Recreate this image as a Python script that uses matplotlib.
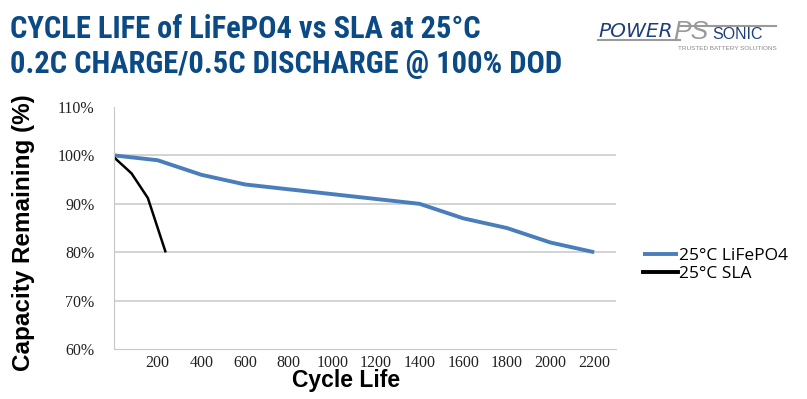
import matplotlib.pyplot as plt
from matplotlib.lines import Line2D

# data
lfp_cycles = [0, 200, 400, 600, 800, 1000, 1200, 1400, 1600, 1800, 2000, 2200]
lfp_capacity = [100, 99, 96, 94, 93, 92, 91, 90, 87, 85, 82, 80]
sla_cycles = [0, 80, 155, 235]
sla_capacity = [99.6, 96.3, 91.2, 80.2]
x_ticks = [200, 400, 600, 800, 1000, 1200, 1400, 1600, 1800, 2000, 2200]
y_ticks = [60, 70, 80, 90, 100, 110]

blue = '#4a7ebb'
title_blue = '#0b4a85'
logo_blue = '#1f3f7a'
logo_gray = '#9a9a9a'

fig = plt.figure(figsize=(8.07, 3.99), dpi=100)
ax = fig.add_axes([0.1413, 0.1253, 0.622, 0.6065])

ax.plot(lfp_cycles, lfp_capacity, color=blue, lw=2.8, label='25°C LiFePO4', solid_capstyle='butt')
ax.plot(sla_cycles, sla_capacity, color='black', lw=1.8, label='25°C SLA')

ax.set_xlim(0, 2300)
ax.set_ylim(60, 110)
ax.set_xticks(x_ticks)
ax.set_yticks(y_ticks)
ax.set_yticklabels(['%d%%' % v for v in y_ticks])
for lab in ax.get_xticklabels() + ax.get_yticklabels():
    lab.set_family('Liberation Serif')
    lab.set_fontsize(11.5)
    lab.set_color('#222222')
ax.tick_params(axis='both', length=0)
ax.tick_params(axis='y', pad=14)
ax.tick_params(axis='x', pad=4)

for v in [70, 80, 90, 100]:
    ax.axhline(v, color='#c8c8c8', lw=1.1, zorder=0)
ax.spines['top'].set_visible(False)
ax.spines['right'].set_visible(False)
ax.spines['left'].set_color('#c8c8c8')
ax.spines['bottom'].set_color('#c8c8c8')

fig.text(346 / 807, 1 - 381 / 399, 'Cycle Life', ha='center', va='center',
         fontsize=16.5, fontweight='bold', family='Liberation Sans')
fig.text(24 / 807, 1 - 233 / 399, 'Capacity Remaining (%)', rotation=90, ha='center', va='center',
         fontsize=17.5, fontweight='bold', family='Liberation Sans')

leg = ax.legend(loc='center left', bbox_to_anchor=(643 / 807, 1 - 265 / 399),
                bbox_transform=fig.transFigure, frameon=False, handlelength=2.0,
                handletextpad=0.05, labelspacing=0.1, borderpad=0, borderaxespad=0,
                prop={'family': 'Open Sans', 'size': 12.5})
for h in leg.get_lines():
    h.set_linewidth(2.8)

# title
fig.text(0.012, 1 - 38 / 399, 'CYCLE LIFE of LiFePO4 vs SLA at 25°C', fontsize=22, fontweight='bold',
         family='Roboto Condensed', color=title_blue, va='baseline')
fig.text(0.012, 1 - 73 / 399, '0.2C CHARGE/0.5C DISCHARGE @ 100% DOD', fontsize=22, fontweight='bold',
         family='Roboto Condensed', color=title_blue, va='baseline')

# logo
fig.text(598 / 807, 1 - 37 / 399, 'POWER', fontsize=14.5, style='italic', color=logo_blue,
         family='DejaVu Sans', va='baseline')
fig.text(673 / 807, 1 - 39 / 399, 'PS', fontsize=19, style='italic', color=logo_gray,
         family='Liberation Sans', va='baseline')
fig.text(712 / 807, 1 - 39 / 399, 'SONIC', fontsize=11.5, color=logo_blue,
         family='Liberation Sans', va='baseline')
fig.text(678 / 807, 1 - 48 / 399, 'TRUSTED BATTERY SOLUTIONS', fontsize=4.6, color='#8a8a8a',
         family='Liberation Sans', va='center')
fig.add_artist(Line2D([598 / 807, 680 / 807], [1 - 40 / 399, 1 - 40 / 399], color=logo_gray, lw=1.5))
fig.add_artist(Line2D([680 / 807, 776 / 807], [1 - 26 / 399, 1 - 26 / 399], color=logo_gray, lw=1.5))

fig.savefig('out.png', dpi=100)
